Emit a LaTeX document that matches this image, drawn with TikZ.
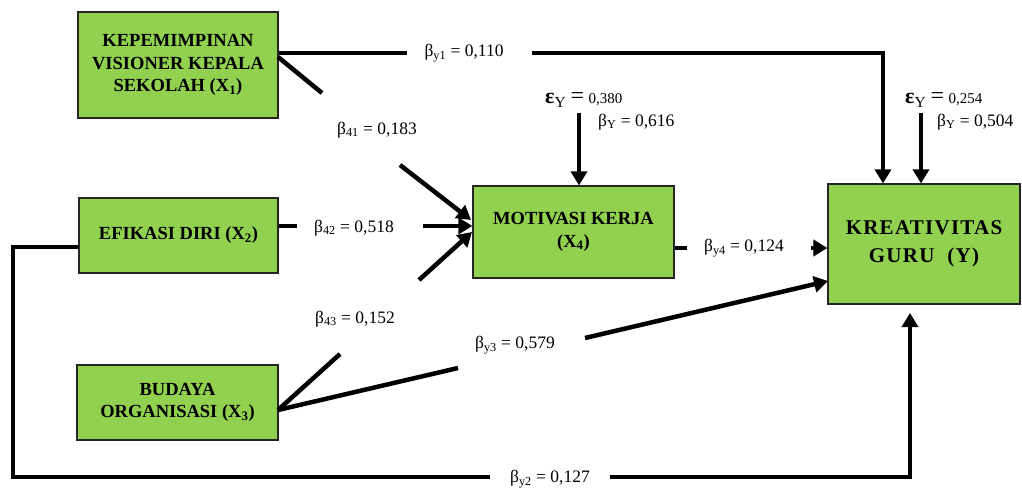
\documentclass[tikz,border=0pt]{standalone}
\usepackage{fontspec}
\setmainfont{Liberation Serif}
\usetikzlibrary{arrows.meta,calc}
\definecolor{boxgreen}{HTML}{92D050}
\begin{document}
\begin{tikzpicture}[x=1pt,y=-1pt,
  box/.style={draw=black!85,line width=1.2pt,fill=boxgreen,align=center,
    font=\fontsize{18.5}{22.5}\selectfont\bfseries,inner sep=0pt},
  ln/.style={line width=4.5pt},
  arr/.style={line width=4.5pt,-{Triangle[length=14pt,width=16pt]}},
  lbl/.style={font=\fontsize{17.5}{19}\selectfont,inner sep=0pt},
]
\useasboundingbox (0,0) rectangle (1022,487);

% boxes
\node[box,minimum width=200pt,minimum height=106pt] (x1) at (178,65)
  {KEPEMIMPINAN\\VISIONER KEPALA\\SEKOLAH (X\textsubscript{1})};
\node[box,minimum width=199pt,minimum height=75pt] (x2) at (178.5,235.5)
  {EFIKASI DIRI (X\textsubscript{2})};
\node[box,minimum width=201pt,minimum height=75pt] (x3) at (177.5,402.5)
  {BUDAYA\\ORGANISASI (X\textsubscript{3})};
\node[box,minimum width=201pt,minimum height=92pt] (x4) at (573.5,232)
  {MOTIVASI KERJA\\(X\textsubscript{4})};
\node[box,minimum width=192pt,minimum height=120pt,
  font=\fontsize{21}{28}\selectfont\bfseries\addfontfeature{LetterSpace=6}] (y) at (924,244)
  {KREATIVITAS\\GURU\ \ (Y)};

% coordinates
\coordinate (y1a) at (407,53);
\coordinate (y1b) at (532,53);
\coordinate (y1c) at (883,53);
\coordinate (c41s) at (278,57);
\coordinate (c41a) at (322,93);
\coordinate (c41b) at (400,165);
\coordinate (c41e) at (471,220);
\coordinate (c42a) at (297,226);
\coordinate (c42b) at (423,226);
\coordinate (c43s) at (278,410);
\coordinate (c43a) at (340,354);
\coordinate (c43b) at (419,280);
\coordinate (c43e) at (472,232);
\coordinate (cy4a) at (687,248);
\coordinate (cy4b) at (811,248);
\coordinate (cy3a) at (458,368);
\coordinate (cy3b) at (585,338);
\coordinate (cy3e) at (828,281);
\coordinate (cy2a) at (13,247);
\coordinate (cy2b) at (13,477);
\coordinate (cy2c) at (490,477);
\coordinate (cy2d) at (610,477);
\coordinate (cy2e) at (910,477);
\coordinate (cy2f) at (910,313);
\coordinate (e1) at (579,113);
\coordinate (e2) at (921,113);

% connectors
\draw[ln] (x1.east |- y1a) -- (y1a);
\draw[arr] (y1b) -- (y1c) -- (y1c |- y.north);

\draw[ln] (c41s) -- (c41a);
\draw[arr] (c41b) -- (c41e);

\draw[ln] (x2.east |- c42a) -- (c42a);
\draw[arr] (c42b) -- (x4.west |- c42b);

\draw[ln] (c43s) -- (c43a);
\draw[arr] (c43b) -- (c43e);

\draw[ln] (x4.east |- cy4a) -- (cy4a);
\draw[arr] (cy4b) -- (y.west |- cy4b);

\draw[ln] (c43s) -- (cy3a);
\draw[arr] (cy3b) -- (cy3e);

\draw[ln] (x2.west |- cy2a) -- (cy2a) -- (cy2b) -- (cy2c);
\draw[arr] (cy2d) -- (cy2e) -- (cy2f);

\draw[arr] (e1) -- (e1 |- x4.north);
\draw[arr] (e2) -- (e2 |- y.north);

% labels
\node[lbl] (ly1) at (464,53) {β\textsubscript{y1} = 0,110};
\node[lbl] (l41) at (377,130) {β\textsubscript{41} = 0,183};
\node[lbl] (l42) at (354,228) {β\textsubscript{42} = 0,518};
\node[lbl] (l43) at (355,319) {β\textsubscript{43} = 0,152};
\node[lbl] (ly4) at (744,248) {β\textsubscript{y4} = 0,124};
\node[lbl] (ly3) at (515,345) {β\textsubscript{y3} = 0,579};
\node[lbl] (ly2) at (550,479) {β\textsubscript{y2} = 0,127};

\node[lbl,anchor=west] (eps1) at (545,100)
  {{\fontsize{22}{22}\selectfont\textbf{ε}\textsubscript{Y}} {\fontsize{24}{24}\selectfont =} {\fontsize{15}{15}\selectfont 0,380}};
\node[lbl,anchor=west] (b1) at (598,122) {β\textsubscript{Y} = 0,616};
\node[lbl,anchor=west] (eps2) at (905,100)
  {{\fontsize{22}{22}\selectfont\textbf{ε}\textsubscript{Y}} {\fontsize{24}{24}\selectfont =} {\fontsize{15}{15}\selectfont 0,254}};
\node[lbl,anchor=west] (b2) at (937,122) {β\textsubscript{Y} = 0,504};
\end{tikzpicture}
\end{document}
